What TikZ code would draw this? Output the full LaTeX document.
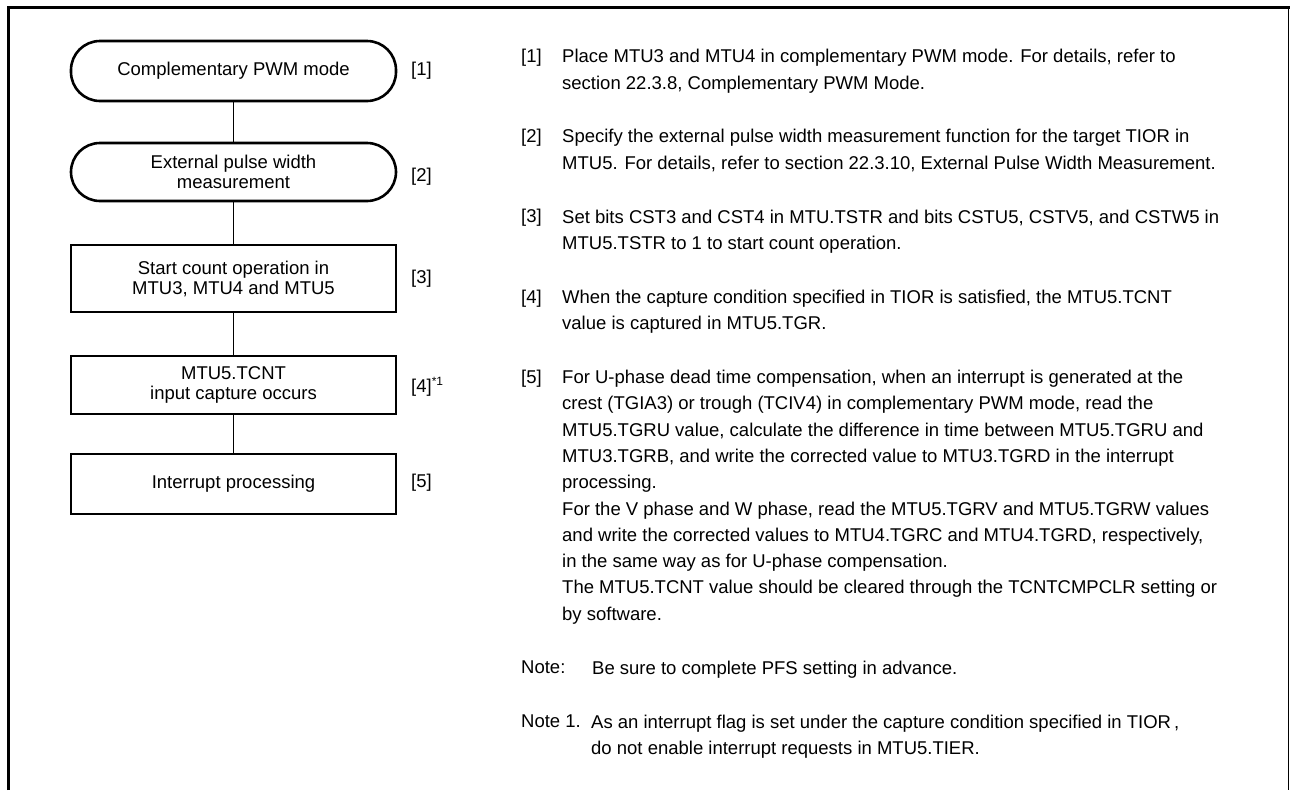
\documentclass[tikz,border=0pt]{standalone}
\usepackage{fontspec}
\setmainfont{Liberation Sans}
\newcommand\nodefont{\fontsize{18.5}{20}\selectfont}
\newcommand\txtfont{\fontsize{18.5}{26.3}\selectfont}
\begin{document}
\begin{tikzpicture}[x=1pt,y=-1pt,
  box/.style={draw,line width=2.6pt,minimum width=325pt,inner sep=0pt,align=center,font=\nodefont},
  term/.style={box,rounded corners=29pt},
  proc/.style={box},
  lbl/.style={anchor=west,inner sep=0pt,font=\nodefont},
  conn/.style={line width=1.3pt},
  para/.style={anchor=north west,inner sep=0pt,align=left,font=\txtfont},
  tag/.style={anchor=base west,inner sep=0pt,font=\txtfont},
]
\useasboundingbox (0,0) rectangle (1290,790);
% frame
\coordinate (fbl) at (8.5,790);
\coordinate (ftl) at (8.5,7.5);
\coordinate (ftr) at (1290,7.5);
\coordinate (frt) at (1288.5,7.5);
\coordinate (frb) at (1288.5,790);
\draw[line width=3.5pt] (fbl) -- (ftl) -- (ftr);
\draw[line width=1.5pt] (frt) -- (frb);
% flowchart
\node[term,minimum height=60pt] (n1) at (233.5,71) {Complementary PWM mode};
\node[term,minimum height=58pt] (n2) at (233.5,172) {External pulse width\\measurement};
\node[proc,minimum height=67pt] (n3) at (233.5,278.5) {Start count operation in\\MTU3, MTU4 and MTU5};
\node[proc,minimum height=58pt] (n4) at (233.5,385) {MTU5.TCNT\\input capture occurs};
\node[proc,minimum height=60pt] (n5) at (233.5,484) {Interrupt processing};
\draw[conn] (n1) -- (n2);
\draw[conn] (n2) -- (n3);
\draw[conn] (n3) -- (n4);
\draw[conn] (n4) -- (n5);
\node[lbl] (l1) at (411,71) {[1]};
\node[lbl] (l2) at (411,177) {[2]};
\node[lbl] (l3) at (411,279) {[3]};
\node[lbl] (l4) at (411,387) {[4]\raisebox{6.5pt}{\fontsize{12}{12}\selectfont *1}};
\node[lbl] (l5) at (411,483) {[5]};
% explanations
\node[tag] (t1) at (521,62.5) {[1]};
\node[para] (p1) at (562,44.1) {\strut Place MTU3 and MTU4 in complementary PWM mode. For details, refer to\\section 22.3.8, Complementary PWM Mode.};
\node[tag] (t2) at (521,142.7) {[2]};
\node[para] (p2) at (562,124.3) {\strut Specify the external pulse width measurement function for the target TIOR in\\MTU5. For details, refer to section 22.3.10, External Pulse Width Measurement.};
\node[tag] (t3) at (521,222.9) {[3]};
\node[para] (p3) at (562,204.5) {\strut Set bits CST3 and CST4 in MTU.TSTR and bits CSTU5, CSTV5, and CSTW5 in\\MTU5.TSTR to 1 to start count operation.};
\node[tag] (t4) at (521,303.1) {[4]};
\node[para] (p4) at (562,284.7) {\strut When the capture condition specified in TIOR is satisfied, the MTU5.TCNT\\value is captured in MTU5.TGR.};
\node[tag] (t5) at (521,383.3) {[5]};
\node[para] (p5) at (562,364.9) {\strut For U-phase dead time compensation, when an interrupt is generated at the\\crest (TGIA3) or trough (TCIV4) in complementary PWM mode, read the\\MTU5.TGRU value, calculate the difference in time between MTU5.TGRU and\\MTU3.TGRB, and write the corrected value to MTU3.TGRD in the interrupt\\processing.\\For the V phase and W phase, read the MTU5.TGRV and MTU5.TGRW values\\and write the corrected values to MTU4.TGRC and MTU4.TGRD, respectively,\\in the same way as for U-phase compensation.\\The MTU5.TCNT value should be cleared through the TCNTCMPCLR setting or\\by software.};
\node[tag] (t6) at (521,673.9) {Note:};
\node[para] (p6) at (592,655.5) {\strut Be sure to complete PFS setting in advance.};
\node[tag] (t7) at (521,727.8) {Note 1.};
\node[para] (p7) at (591,709.4) {\strut As an interrupt flag is set under the capture condition specified in TIOR\kern3pt,\\do not enable interrupt requests in MTU5.TIER.};
\end{tikzpicture}
\end{document}
